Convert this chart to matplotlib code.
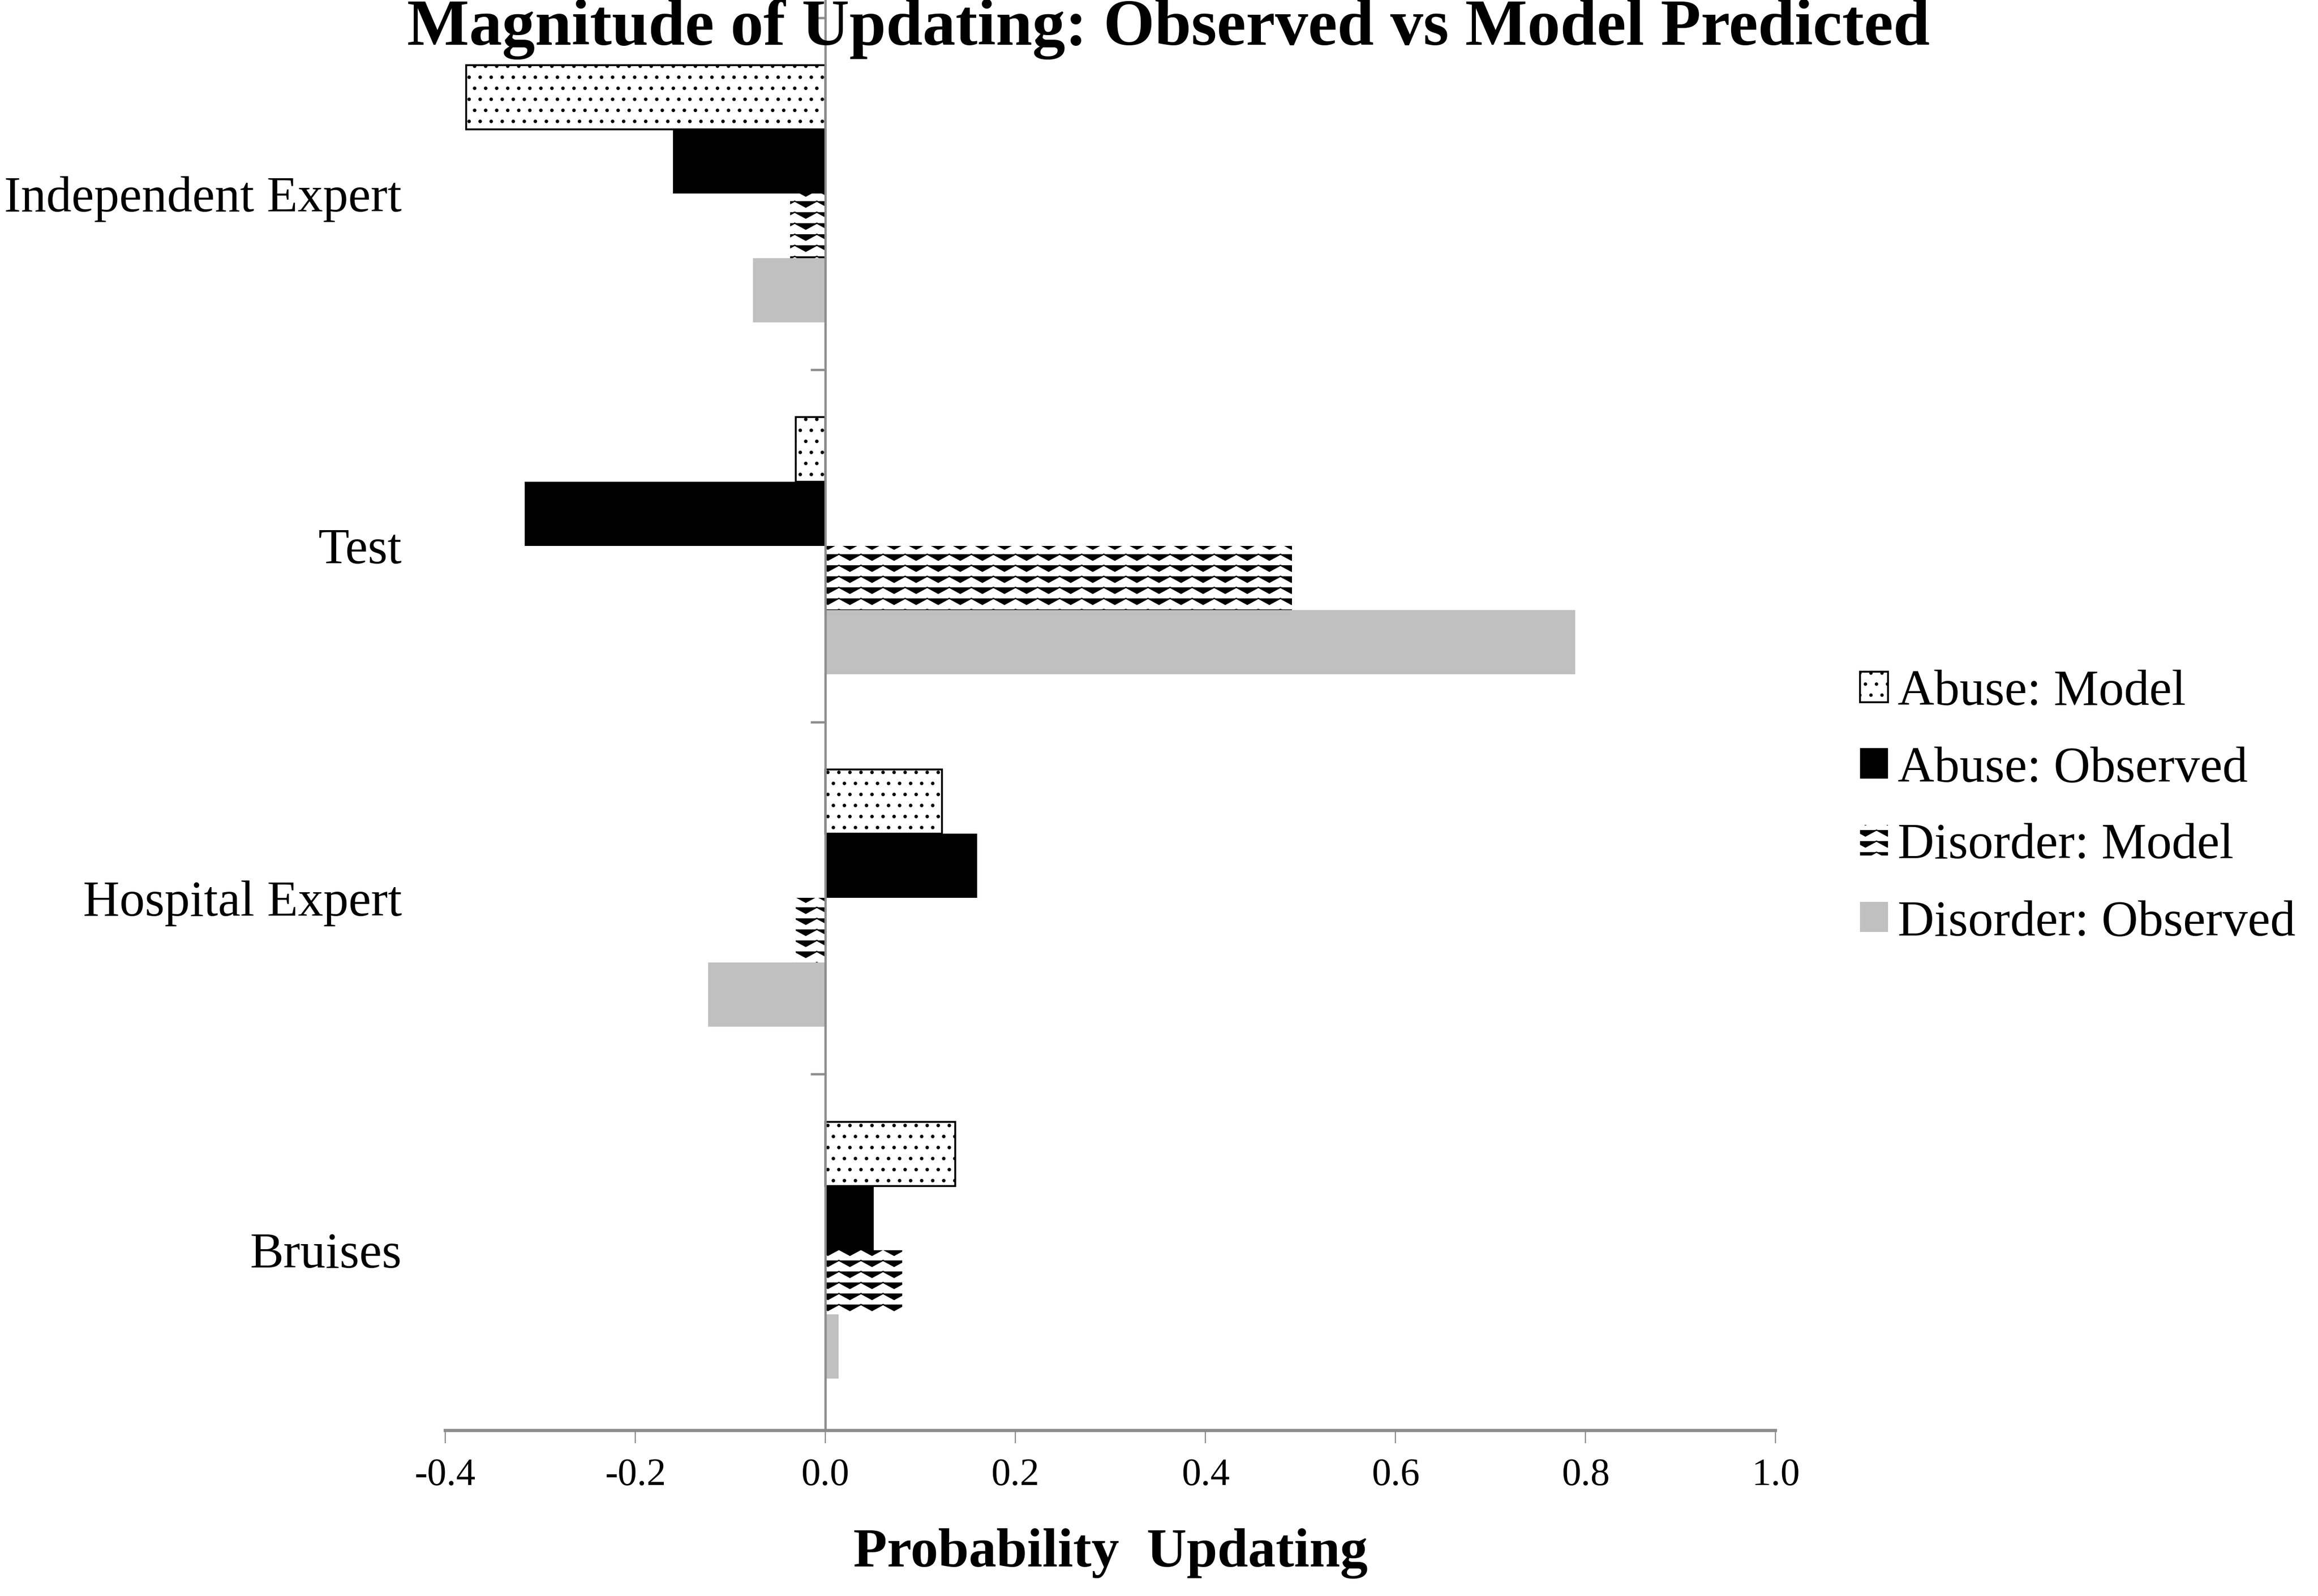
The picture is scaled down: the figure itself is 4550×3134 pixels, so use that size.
import warnings
warnings.filterwarnings("ignore")
import numpy as np
import matplotlib
matplotlib.use("Agg")
import matplotlib.pyplot as plt
from matplotlib.path import Path
from matplotlib import hatch as mhatch
from matplotlib.patches import Patch

# ---------------- data ----------------
categories = ["Bruises", "Hospital Expert", "Test", "Independent Expert"]
series_names = ["Abuse: Model", "Abuse: Observed", "Disorder: Model", "Disorder: Observed"]
abuse_model = [0.137, 0.123, -0.031, -0.378]
abuse_observed = [0.051, 0.160, -0.316, -0.160]
disorder_model = [0.081, -0.031, 0.491, -0.037]
disorder_observed = [0.014, -0.123, 0.789, -0.076]
xticks = [-0.4, -0.2, 0.0, 0.2, 0.4, 0.6, 0.8, 1.0]
xtick_labels = ["-0.4", "-0.2", "0.0", "0.2", "0.4", "0.6", "0.8", "1.0"]
title = "Magnitude of Updating: Observed vs Model Predicted"
xlabel = "Probability  Updating"


# ---------------- custom zigzag hatch ----------------
class ZigZagHatch(mhatch.HatchPatternBase):
    def __init__(self, hatch, density):
        n = hatch.count('z')
        self.num_rows = n * 6
        self.periods = n * 3
        self.npts = 2 * self.periods + 1
        self.num_vertices = self.num_rows * self.npts

    def set_vertices_and_codes(self, vertices, codes):
        n = self.npts
        xs = np.linspace(0, 1, n)
        amp = 0.045
        sign = np.where(np.arange(n) % 2 == 0, 1.0, -1.0)
        for r in range(self.num_rows):
            yc = (r + 0.5) / self.num_rows
            vertices[r * n:(r + 1) * n, 0] = xs
            vertices[r * n:(r + 1) * n, 1] = yc + amp * sign
            codes[r * n] = Path.MOVETO
            codes[r * n + 1:(r + 1) * n] = Path.LINETO


if ZigZagHatch not in mhatch._hatch_types:
    mhatch._hatch_types.append(ZigZagHatch)

plt.rcParams['font.family'] = ['Liberation Serif', 'DejaVu Serif']
plt.rcParams['hatch.linewidth'] = 1.3

DPI = 130
fig = plt.figure(figsize=(4550 / DPI, 3134 / DPI), dpi=DPI)
ax = fig.add_axes([0.192, 0.1037, 0.766 - 0.192, 1.0 - 0.1037])

y = np.arange(len(categories))
h = 0.1825
offsets = [1.5 * h, 0.5 * h, -0.5 * h, -1.5 * h]

styles = [
    dict(facecolor='white', edgecolor='black', hatch='.', linewidth=2.0),
    dict(facecolor='black', edgecolor='black', linewidth=0),
    dict(facecolor='white', edgecolor='black', hatch='z', linewidth=0),
    dict(facecolor='#c0c0c0', edgecolor='#c0c0c0', linewidth=0),
]
hatch_lw = [1.4, None, 1.4, None]
data = [abuse_model, abuse_observed, disorder_model, disorder_observed]

for vals, off, st, hlw in zip(data, offsets, styles, hatch_lw):
    bars = ax.barh(y + off, vals, height=h, zorder=2, **st)
    if hlw is not None:
        for b in bars:
            if hasattr(b, 'set_hatch_linewidth'):
                b.set_hatch_linewidth(hlw)

ax.set_xlim(-0.4, 1.0)
ax.set_ylim(-0.512, 3.55)

for s in ['top', 'right', 'left']:
    ax.spines[s].set_visible(False)
ax.spines['bottom'].set_color('#8c8c8c')
ax.spines['bottom'].set_linewidth(3.5)
ax.set_xticks(xticks)
ax.set_xticklabels(xtick_labels)
ax.tick_params(axis='x', direction='out', length=14, width=1.3, color='#8c8c8c',
               pad=16, labelsize=42)
ax.set_yticks(y)
ax.set_yticklabels(categories)
ax.tick_params(axis='y', length=0, pad=47, labelsize=55)

# vertical axis at zero, with category boundary ticks
ax2 = ax.twinx()
ax2.set_ylim(ax.get_ylim())
for s in ['top', 'left', 'bottom']:
    ax2.spines[s].set_visible(False)
ax2.spines['right'].set_position(('data', 0.0))
ax2.spines['right'].set_color('#8c8c8c')
ax2.spines['right'].set_linewidth(2.5)
ax2.set_yticks(y + 0.5)
ax2.set_yticklabels([])
ax2.tick_params(axis='y', direction='in', length=16, width=2.5, color='#8c8c8c')
ax2.set_zorder(ax.get_zorder() + 1)
ax2.patch.set_visible(False)

# legend
handles = [Patch(**st) for st in styles]
for hd, hlw in zip(handles, hatch_lw):
    if hlw is not None and hasattr(hd, 'set_hatch_linewidth'):
        hd.set_hatch_linewidth(hlw)
fig.legend(handles, series_names, loc='center left', bbox_to_anchor=(0.8024, 0.494),
           frameon=False, fontsize=55, handlelength=0.55, handleheight=0.55,
           handletextpad=0.2, labelspacing=0.61, borderpad=0, borderaxespad=0)

fig.text(0.504, 0.972, title, ha='center', va='baseline', fontsize=71.5, fontweight='bold')
fig.text(0.479, 0.0185, xlabel, ha='center', va='baseline', fontsize=60, fontweight='bold')

fig.savefig('out.png', dpi=DPI, facecolor='white')
